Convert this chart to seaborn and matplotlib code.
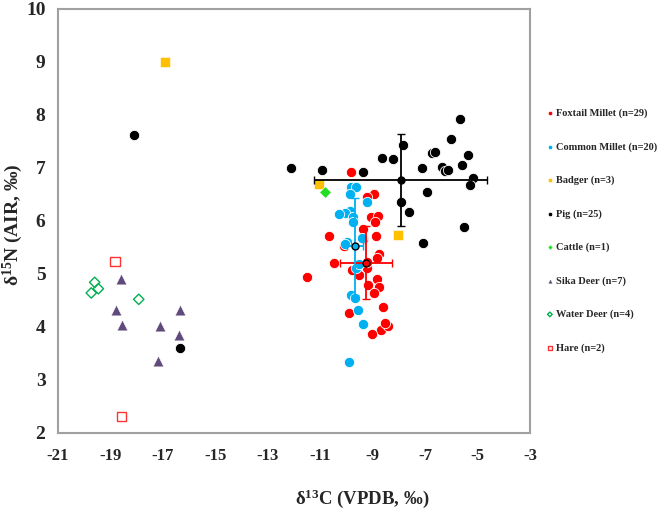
import numpy as np
import pandas as pd
import matplotlib
matplotlib.use("Agg")
import matplotlib.pyplot as plt
import seaborn as sns

# d13C / d15N values
foxtail_c = [-9.83, -8.97, -9.23, -9.06, -8.81, -8.90, -9.36, -10.65, -8.86, -10.08,
             -9.39, -8.77, -8.82, -10.49, -9.79, -9.52, -9.23, -11.51, -8.85, -8.77,
             -9.19, -8.95, -8.62, -9.90, -8.67, -8.40, -9.04, -8.53, -9.23]
foxtail_n = [6.92, 6.50, 6.45, 6.07, 6.09, 5.97, 5.84, 5.72, 5.72, 5.53,
             5.65, 5.38, 5.30, 5.20, 5.08, 4.98, 5.11, 4.94, 4.90, 4.76,
             4.79, 4.64, 4.38, 4.27, 3.94, 4.02, 3.87, 4.08, 5.23]

common_c = [-9.81, -9.65, -9.86, -9.23, -9.86, -10.07, -10.27, -9.74, -9.75, -9.99,
            -9.41, -9.61, -9.65, -9.81, -9.68, -9.58, -9.36, -9.90, -10.04, -9.54]
common_n = [6.63, 6.64, 6.50, 6.36, 6.19, 6.14, 6.12, 6.07, 5.98, 5.61,
            5.68, 5.17, 5.11, 4.61, 4.54, 4.32, 4.06, 3.33, 5.57, 5.19]

badger_c = [-16.92, -11.03, -8.04]
badger_n = [9.00, 6.69, 5.74]

pig_c = [-5.69, -6.00, -5.36, -6.75, -6.62, -8.65, -8.22, -7.84, -5.58, -7.12,
         -6.37, -6.24, -6.14, -10.94, -9.37, -5.16, -5.29, -6.95, -7.93, -7.61,
         -5.54, -7.07, -12.11, -18.10, -16.35]
pig_n = [7.92, 7.55, 7.25, 7.28, 7.30, 7.19, 7.16, 7.43, 7.05, 6.99,
         7.02, 6.94, 6.96, 6.96, 6.93, 6.81, 6.68, 6.54, 6.35, 6.17,
         5.88, 5.59, 7.00, 7.62, 3.60]

cattle_c = [-10.83]
cattle_n = [6.55]

sika_c = [-18.61, -18.80, -18.56, -17.11, -16.35, -16.39, -17.19]
sika_n = [4.90, 4.32, 4.03, 4.01, 4.32, 3.85, 3.36]

water_c = [-19.60, -19.46, -19.73, -17.92]
water_n = [4.84, 4.72, 4.64, 4.52]

hare_c = [-18.83, -18.57]
hare_n = [5.23, 2.31]

# group means and 1 SD (foxtail millet, common millet, pig)
mean_names = ["Foxtail Millet", "Common Millet", "Pig"]
mean_c = [-9.25, -9.67, -7.93]
sd_c = [0.99, 0.30, 3.30]
mean_n = [5.21, 5.52, 6.77]
sd_n = [0.69, 0.92, 0.86]

sns.set_style("white")
plt.rcParams["font.family"] = ["Liberation Serif", "DejaVu Serif"]
plt.rcParams["font.weight"] = "bold"
plt.rcParams["axes.unicode_minus"] = False
plt.rcParams["mathtext.fontset"] = "custom"
plt.rcParams["mathtext.rm"] = "Liberation Serif:bold"
plt.rcParams["mathtext.bf"] = "Liberation Serif:bold"
plt.rcParams["mathtext.it"] = "Liberation Serif:bold"

fig = plt.figure(figsize=(6.66, 5.16), dpi=100)
ax = fig.add_axes([0.087, 0.161, 0.709, 0.822])

groups = [
    ("Foxtail Millet (n=29)", foxtail_c, foxtail_n, dict(marker="o", color="#ff0000", edgecolor="white", s=55, linewidth=0.6)),
    ("Common Millet (n=20)", common_c, common_n, dict(marker="o", color="#00b0f0", edgecolor="white", s=55, linewidth=0.6)),
    ("Badger (n=3)", badger_c, badger_n, dict(marker="s", color="#ffc000", edgecolor="white", s=50, linewidth=0.4)),
    ("Pig (n=25)", pig_c, pig_n, dict(marker="o", color="black", edgecolor="white", s=55, linewidth=0.6)),
    ("Cattle (n=1)", cattle_c, cattle_n, dict(marker="D", color="#22dd22", edgecolor="white", s=35, linewidth=0.4)),
    ("Sika Deer (n=7)", sika_c, sika_n, dict(marker="^", color="#604a7b", edgecolor="white", s=60, linewidth=0.4)),
    ("Water Deer (n=4)", water_c, water_n, dict(marker="D", facecolor="none", edgecolor="#00b050", s=28, linewidth=1.0)),
    ("Hare (n=2)", hare_c, hare_n, dict(marker="s", facecolor="none", edgecolor="#ff3333", s=45, linewidth=1.0)),
]

for label, xs, ys, kw in groups:
    df = pd.DataFrame({"c": xs, "n": ys})
    sns.scatterplot(data=df, x="c", y="n", ax=ax, label=label, zorder=3, **kw)

bar_colors = ["#ff0000", "#00b0f0", "black"]
for i in range(len(mean_names)):
    ax.errorbar(mean_c[i], mean_n[i], xerr=sd_c[i], yerr=sd_n[i], fmt="o",
                color=bar_colors[i], ecolor=bar_colors[i], elinewidth=1.3,
                capsize=3, capthick=1.3, markersize=5, markerfacecolor=bar_colors[i],
                markeredgecolor="black", markeredgewidth=1.0, zorder=5)

ax.set_xlim(-21, -3)
ax.set_ylim(2, 10)
ax.set_xticks(np.arange(-21, -2, 2))
ax.set_xticks(np.arange(-20, -3, 2), minor=True)
ax.set_yticks(np.arange(2, 11, 1))
ax.set_yticks(np.arange(2.5, 10, 1), minor=True)
ax.tick_params(which="major", direction="inout", length=8, width=1, color="#a0a0a0")
ax.tick_params(which="minor", direction="in", length=3, width=1, color="#a0a0a0")
ax.tick_params(axis="x", which="major", labelsize=12, pad=7)
ax.tick_params(axis="y", which="major", labelsize=14, pad=5)
for sp in ax.spines.values():
    sp.set_color("#a0a0a0")
    sp.set_linewidth(1.5)
for t in ax.get_xticklabels() + ax.get_yticklabels():
    t.set_fontweight("bold")

ax.set_xlabel("δ$^{13}$C (VPDB, ‰)", fontsize=13.5, fontweight="bold")
ax.set_ylabel("δ$^{15}$N (AIR, ‰)", fontsize=14, fontweight="bold")
ax.xaxis.set_label_coords(0.644, -0.128)
ax.yaxis.set_label_coords(-0.07, 0.49)

leg = ax.legend(loc="center left", bbox_to_anchor=(0.81, 0.553), bbox_transform=fig.transFigure,
                frameon=False, fontsize=7.5, markerscale=0.45, handletextpad=0.1,
                handlelength=1.0, labelspacing=2.3, borderpad=0)
for t in leg.get_texts():
    t.set_fontweight("bold")

fig.savefig("out.png", dpi=100)
